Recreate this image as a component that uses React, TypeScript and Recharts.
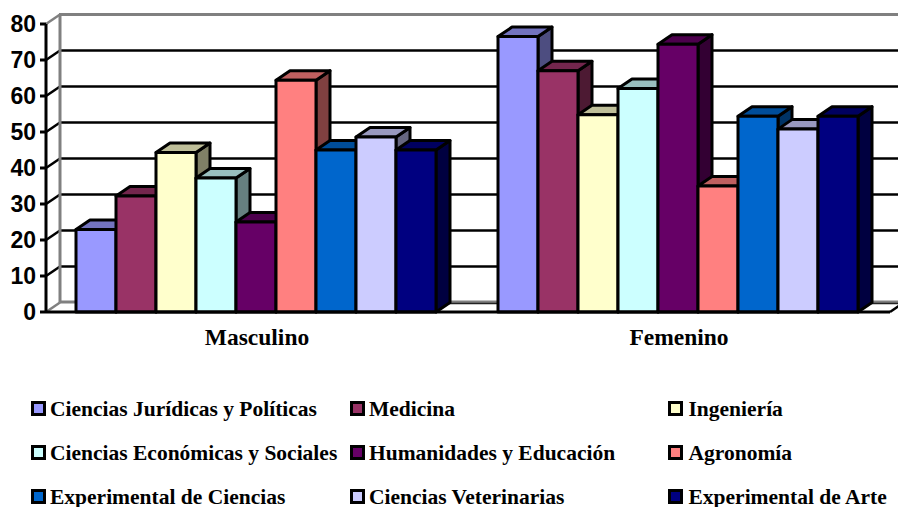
import React from 'react';
import { BarChart, Bar, XAxis, YAxis, CartesianGrid, Legend } from 'recharts';

const categories = ['Masculino', 'Femenino'];
const seriesNames = [
  'Ciencias Jurídicas y Políticas', 'Medicina', 'Ingeniería',
  'Ciencias Económicas y Sociales', 'Humanidades y Educación', 'Agronomía',
  'Experimental de Ciencias', 'Ciencias Veterinarias', 'Experimental de Arte',
];
const seriesColors = ['#9999FF', '#993366', '#FFFFCC', '#CCFFFF', '#660066', '#FF8080', '#0066CC', '#CCCCFF', '#000080'];
const masculino = [22.9, 32.2, 44.3, 37.2, 25, 64.4, 45, 48.6, 45];
const femenino = [76.5, 67, 54.8, 62.1, 74.4, 35, 54.4, 50.8, 54.4];
const yTicks = [0, 10, 20, 30, 40, 50, 60, 70, 80];

const rows = categories.map((c, ci) => {
  const row: Record<string, any> = { category: c };
  seriesNames.forEach((s, i) => { row[s] = (ci === 0 ? masculino : femenino)[i]; });
  return row;
});

const DX = 14;
const DY = 9.5;
const WALL = '#808080';
const EDGE = 3;
const PLOT_TOP = 24;
const PLOT_BOTTOM = 312;

function shade(hex: string, k: number) {
  const n = parseInt(hex.slice(1), 16);
  const c = [(n >> 16) & 255, (n >> 8) & 255, n & 255].map((v) => Math.round(v * k));
  return `rgb(${c[0]},${c[1]},${c[2]})`;
}

function Bar3D(props: any) {
  const { x, y, width, height, fill } = props;
  const r = x + width;
  const b = y + height;
  const common = { stroke: '#000', strokeWidth: EDGE, strokeLinejoin: 'round' as const };
  return (
    <g>
      <path d={`M${r},${y}L${r + DX},${y - DY}L${r + DX},${b - DY}L${r},${b}Z`} fill={shade(fill, 0.5)} {...common} />
      <path d={`M${x},${y}L${x + DX},${y - DY}L${r + DX},${y - DY}L${r},${y}Z`} fill={shade(fill, 0.75)} {...common} />
      <rect x={x} y={y} width={width} height={height} fill={fill} {...common} />
    </g>
  );
}

function WallLine(props: any) {
  const { x1, x2, y1, index } = props;
  const isTop = Math.abs(y1 - PLOT_TOP) < 1;
  const isBottom = Math.abs(y1 - PLOT_BOTTOM) < 1;
  const bx = x1 + DX;
  const by = y1 - DY;
  if (isTop) {
    return (
      <g key={`wall-${index}`}>
        <line x1={bx} y1={PLOT_BOTTOM - DY} x2={bx} y2={by} stroke={WALL} strokeWidth={3} />
        <line x1={x1} y1={y1} x2={bx} y2={by} stroke={WALL} strokeWidth={2.5} />
        <line x1={bx - 1} y1={by} x2={x2 + DX} y2={by} stroke={WALL} strokeWidth={3} />
      </g>
    );
  }
  if (isBottom) {
    return (
      <g key={`wall-${index}`}>
        <line x1={x1} y1={y1} x2={bx} y2={by} stroke={WALL} strokeWidth={2.5} />
        <line x1={bx} y1={by - 0.5} x2={x2 + DX} y2={by - 0.5} stroke={WALL} strokeWidth={3} />
        <line x1={bx + 60} y1={by + 1} x2={x2 + DX} y2={by + 1} stroke="#222" strokeWidth={1.5} />
        <line x1={x2} y1={y1} x2={x2 + DX} y2={by} stroke="#000" strokeWidth={2.5} />
      </g>
    );
  }
  return (
    <g key={`wall-${index}`}>
      <line x1={x1} y1={y1} x2={bx} y2={by} stroke="#000" strokeWidth={2.5} />
      <line x1={bx} y1={by} x2={x2 + DX} y2={by} stroke="#000" strokeWidth={2.5} />
    </g>
  );
}

const legendColumns = [
  { box: 30.5, text: 50 },
  { box: 349.5, text: 369 },
  { box: 668, text: 688.5 },
];
const legendRows = [408.5, 452.5, 496.5];

function LegendBlock(props: any) {
  const items: any[] = props.payload || [];
  return (
    <div style={{ position: 'absolute', left: 0, top: 0, width: 898, height: 0 }}>
      {items.map((item, i) => {
        const col = legendColumns[i % 3];
        const cy = legendRows[Math.floor(i / 3)];
        return (
          <React.Fragment key={item.value}>
            <div
              style={{
                position: 'absolute', left: col.box, top: cy - 8, width: 15, height: 15,
                boxSizing: 'border-box', border: '3px solid #000', background: item.color,
              }}
            />
            <div
              style={{
                position: 'absolute', left: col.text, top: cy - 12, height: 24, lineHeight: '24px',
                whiteSpace: 'nowrap', fontFamily: '"Liberation Serif", serif', fontWeight: 700,
                fontSize: 21.5, color: '#000',
              }}
            >
              {item.value}
            </div>
          </React.Fragment>
        );
      })}
    </div>
  );
}

export default function App() {
  return (
    <div style={{ position: 'absolute', left: 0, top: 0, width: 898, height: 507, background: '#fff' }}>
      <BarChart
        width={898}
        height={507}
        data={rows}
        margin={{ top: PLOT_TOP, right: 8, bottom: 155, left: 0 }}
        barGap={0}
        barCategoryGap={30}
      >
        <CartesianGrid horizontal={WallLine as any} vertical={false} />
        <XAxis
          dataKey="category"
          height={40}
          tickLine={false}
          axisLine={{ stroke: '#000', strokeWidth: EDGE }}
          tick={{ fontFamily: '"Liberation Serif", serif', fontWeight: 700, fontSize: 23.5, fill: '#000' }}
          tickMargin={10}
        />
        <YAxis
          width={46}
          domain={[0, 80]}
          ticks={yTicks}
          interval={0}
          tickSize={6}
          tickMargin={4}
          tickLine={{ stroke: '#000', strokeWidth: EDGE }}
          axisLine={{ stroke: '#000', strokeWidth: EDGE }}
          tick={{ fontFamily: '"Liberation Sans", sans-serif', fontWeight: 700, fontSize: 23, fill: '#000' }}
        />
        <Legend
          verticalAlign="bottom"
          itemSorter={null as any}
          content={LegendBlock as any}
          wrapperStyle={{ position: 'absolute', left: 0, top: 0, bottom: 'auto', width: 0, height: 0 }}
        />
        {seriesNames.map((s, i) => (
          <Bar key={s} dataKey={s} fill={seriesColors[i]} isAnimationActive={false} shape={Bar3D as any} />
        ))}
      </BarChart>
    </div>
  );
}
